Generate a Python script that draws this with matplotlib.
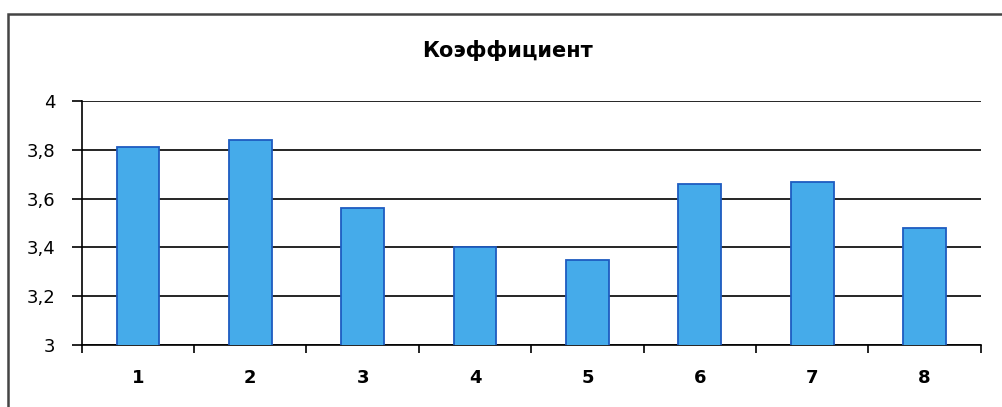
import matplotlib
matplotlib.use("Agg")
import matplotlib.pyplot as plt
from matplotlib.ticker import FuncFormatter, MultipleLocator
from matplotlib.patches import Rectangle

# data
categories = ['1', '2', '3', '4', '5', '6', '7', '8']
values = [3.81, 3.84, 3.56, 3.40, 3.35, 3.66, 3.67, 3.48]
title = "Коэффициент"

plt.rcParams['font.family'] = ['DejaVu Sans']

fig = plt.figure(figsize=(10.02, 4.07), dpi=100)
ax = fig.add_axes([0.0815, 0.1523, 0.8973, 0.5995])

x = list(range(len(categories)))
ax.bar(x, values, width=0.38, bottom=0, color='#45ABEA',
       edgecolor='#1E5CC0', linewidth=1.3, zorder=3)

ax.set_xlim(-0.5, len(categories) - 0.5)
ax.set_ylim(3, 4)
ax.yaxis.set_major_locator(MultipleLocator(0.2))
ax.yaxis.set_major_formatter(FuncFormatter(
    lambda v, p: ('%g' % round(v, 1)).replace('.', ',')))

# gridlines
ax.grid(axis='y', color='black', linewidth=1.2, zorder=1)
ax.set_axisbelow(True)

# x ticks at category borders, labels in the middle
ax.set_xticks([i - 0.5 for i in range(len(categories) + 1)])
ax.set_xticklabels([])
ax.set_xticks(x, minor=True)
ax.set_xticklabels(categories, minor=True, fontsize=13, fontweight='bold')
ax.tick_params(axis='x', which='major', length=6, width=1.2, direction='out')
ax.tick_params(axis='x', which='minor', length=0, pad=17)
ax.tick_params(axis='y', length=7, width=1.2, direction='out', labelsize=13, pad=12)

for s in ['top', 'right']:
    ax.spines[s].set_visible(False)
for s in ['left', 'bottom']:
    ax.spines[s].set_linewidth(1.2)

fig.text(0.506, 0.877, title, ha='center', va='center', fontsize=15, fontweight='bold')

# outer chart border (right and bottom sit outside the picture)
fig.patches.append(Rectangle((7.5 / 1002, -0.05), 1.1, 1 - 13.5 / 407 + 0.05,
                             transform=fig.transFigure, fill=False,
                             edgecolor='#444444', linewidth=1.8))

fig.savefig("out.png", dpi=100)
